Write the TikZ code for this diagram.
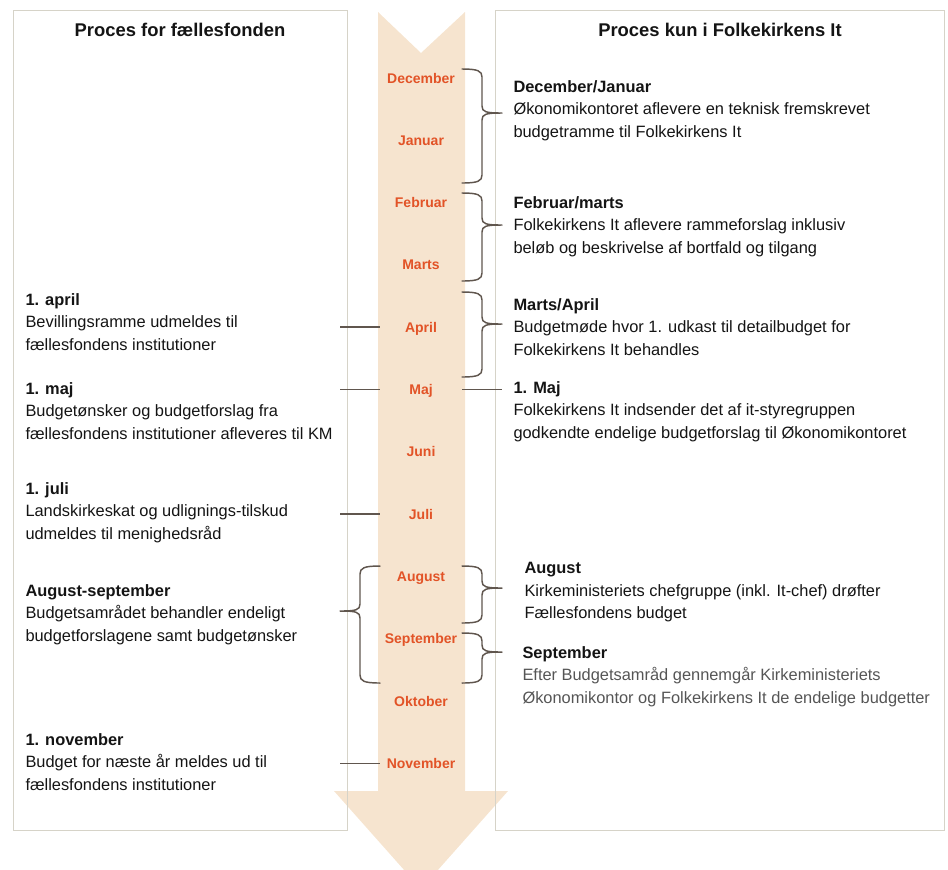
\documentclass[tikz,border=0pt]{standalone}
\usepackage{fontspec}
\setmainfont{Liberation Sans}

\definecolor{peach}{RGB}{246,228,207}
\definecolor{monthred}{RGB}{226,83,39}
\definecolor{frame}{RGB}{214,211,200}
\definecolor{bracegray}{RGB}{96,86,78}
\definecolor{ink}{RGB}{20,20,20}
\definecolor{softink}{RGB}{85,85,85}

\tikzset{every picture/.style={line width=0.75pt}}
\tikzset{
  month/.style={font=\fontsize{10.5}{12}\selectfont\bfseries, text=monthred, inner sep=0pt, text height=7.5pt, text depth=0pt},
  note/.style={font=\fontsize{12.3}{16.9}\selectfont, text=ink, align=left, anchor=north west, inner sep=0pt},
  head/.style={font=\fontsize{13.8}{16}\selectfont\bfseries, text=ink, inner sep=0pt},
  curly/.style={draw=bracegray, line width=1.1pt, line cap=round},
  link/.style={draw=bracegray, line width=1.1pt}
}

% curly brace: #1 x of the ends, #2 top, #3 tip, #4 bottom, #5 side (1 = right, -1 = left)
\newcommand{\monthbrace}[5]{%
  \draw[curly] (#1,#2) .. controls ({#1+(#5)*16},#2) and ({#1+(#5)*20},{#2+2}) .. ({#1+(#5)*20},{#2+8})
    -- ({#1+(#5)*20},{#3-7}) .. controls ({#1+(#5)*20},{#3-1}) and ({#1+(#5)*24},#3) .. ({#1+(#5)*40},#3)
    ({#1+(#5)*40},#3) .. controls ({#1+(#5)*24},#3) and ({#1+(#5)*20},{#3+1}) .. ({#1+(#5)*20},{#3+7})
    -- ({#1+(#5)*20},{#4-8}) .. controls ({#1+(#5)*20},{#4-2}) and ({#1+(#5)*16},#4) .. (#1,#4);
}

\begin{document}
\begin{tikzpicture}[x=0.75pt,y=0.75pt,yscale=-1,xscale=1]
    \useasboundingbox (0,0) rectangle (948,869);
    \clip (0,0) rectangle (948,869);

    %Shapes: time arrow
    \fill[peach] (378,12) -- (421,53) -- (465,12) -- (465,791) -- (508,791) -- (421,889) -- (334,791) -- (378,791) -- cycle;

    %Shapes: the two frames
    \draw[frame] (13,10) rectangle (347,830);
    \draw[frame] (495,10) rectangle (944,830);

    % Text Node
    \node[head] (leftHead) at (180,30) {Proces for fællesfonden};
    % Text Node
    \node[head] (rightHead) at (720,30) {Proces kun i Folkekirkens It};

    %Months down the arrow
    \foreach \m [count=\i from 0] in {December,Januar,Februar,Marts,April,Maj,Juni,Juli,August,September,Oktober,November}
      \node[month] (m\i) at (421,78+62.3*\i) {\m};

    %Line ends
    \coordinate (leftEnd) at (340,0);
    \coordinate (shaftL) at (380,0);
    \coordinate (shaftR) at (462,0);
    \coordinate (rightEnd) at (502,0);

    %Straight Lines
    \draw[link] (m4 -| leftEnd) -- (m4 -| shaftL);
    \draw[link] (m5 -| leftEnd) -- (m5 -| shaftL);
    \draw[link] (m7 -| leftEnd) -- (m7 -| shaftL);
    \draw[link] (m11 -| leftEnd) -- (m11 -| shaftL);
    \draw[link] (m5 -| shaftR) -- (m5 -| rightEnd);

    %Curve Lines: braces
    \monthbrace{462}{69}{113}{183}{1}
    \monthbrace{462}{193}{225}{281}{1}
    \monthbrace{462}{292}{324}{377}{1}
    \monthbrace{462}{566}{588}{623}{1}
    \monthbrace{462}{633}{652}{683}{1}
    \monthbrace{380}{566}{611}{683}{-1}

    % Text Node
    \node[note] (apr) at (25,293) {\textbf{1. april}\\Bevillingsramme udmeldes til\\fællesfondens institutioner};
    % Text Node
    \node[note] (maj) at (25,382) {\textbf{1. maj}\\Budgetønsker og budgetforslag fra\\fællesfondens institutioner afleveres til KM};
    % Text Node
    \node[note] (juli) at (25,482) {\textbf{1. juli}\\Landskirkeskat og udlignings-tilskud\\udmeldes til menighedsråd};
    % Text Node
    \node[note] (augsep) at (25,584) {\textbf{August-september}\\Budgetsamrådet behandler endeligt\\budgetforslagene samt budgetønsker};
    % Text Node
    \node[note] (nov) at (25,733) {\textbf{1. november}\\Budget for næste år meldes ud til\\fællesfondens institutioner};

    % Text Node
    \node[note] (decjan) at (513,80) {\textbf{December/Januar}\\Økonomikontoret aflevere en teknisk fremskrevet\\budgetramme til Folkekirkens It};
    % Text Node
    \node[note] (febmar) at (513,196) {\textbf{Februar/marts}\\Folkekirkens It aflevere rammeforslag inklusiv\\beløb og beskrivelse af bortfald og tilgang};
    % Text Node
    \node[note] (marapr) at (513,298) {\textbf{Marts/April}\\Budgetmøde hvor 1. udkast til detailbudget for\\Folkekirkens It behandles};
    % Text Node
    \node[note] (itmaj) at (513,381) {\textbf{1. Maj}\\Folkekirkens It indsender det af it-styregruppen\\godkendte endelige budgetforslag til Økonomikontoret};
    % Text Node
    \node[note] (aug) at (524,562) {\textbf{August}\\Kirkeministeriets chefgruppe (inkl. It-chef) drøfter\\Fællesfondens budget};
    % Text Node
    \node[note, text=softink] (sep) at (522,646) {\textcolor{ink}{\textbf{September}}\\Efter Budgetsamråd gennemgår Kirkeministeriets\\Økonomikontor og Folkekirkens It de endelige budgetter};

\end{tikzpicture}
\end{document}
